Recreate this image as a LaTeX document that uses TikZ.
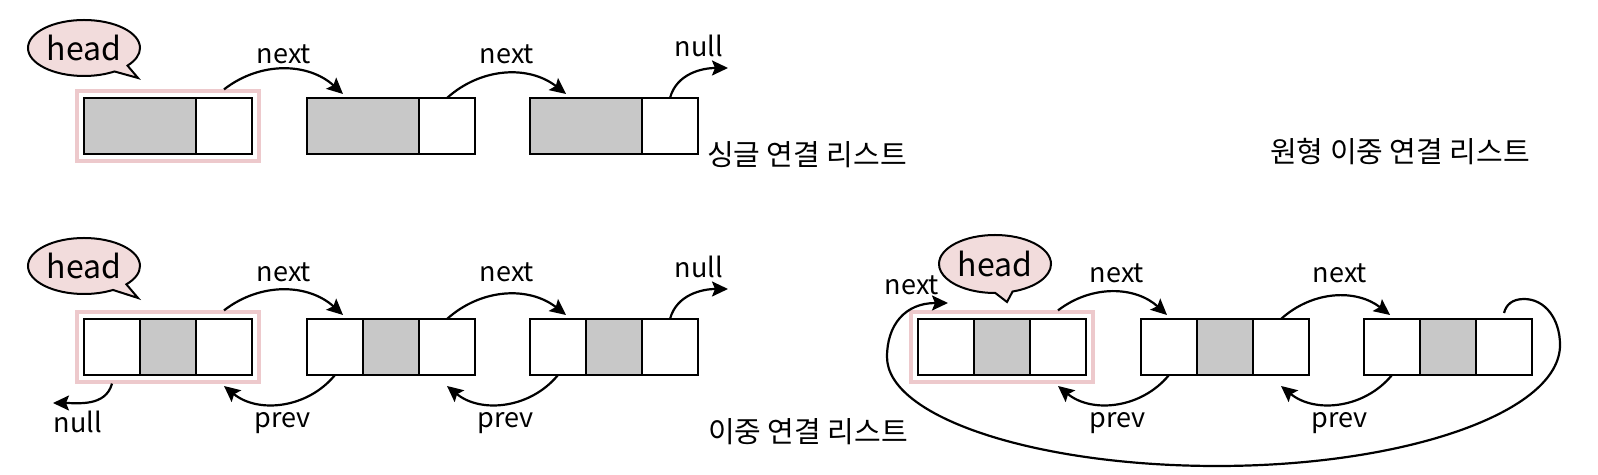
\documentclass[tikz,border=0pt]{standalone}
\usepackage{fontspec}
\setmainfont{Noto Sans CJK KR}
\usetikzlibrary{arrows.meta,shapes.callouts,fit}
\definecolor{cellgray}{HTML}{C8C8C8}
\definecolor{framepink}{HTML}{EDC9CC}
\definecolor{bubblepink}{HTML}{F2DCDC}
\tikzset{
  cell/.style={draw, line width=1.2pt, minimum width=28pt, minimum height=28pt, inner sep=0pt, outer sep=0pt, fill=white},
  datacell/.style={cell, fill=cellgray},
  headframe/.style={draw=framepink, line width=1.6pt, inner sep=3.5pt},
  bubble/.style={ellipse callout, draw, line width=1pt, fill=bubblepink, minimum width=56pt, minimum height=28pt, inner sep=0pt, callout pointer arc=18, font=\fontsize{16}{18}\selectfont},
  link/.style={line width=1.1pt, -{Stealth[length=8pt,width=7.5pt,inset=1.5pt]}},
  lbl/.style={font=\fontsize{13.5}{15}\selectfont},
  title/.style={font=\fontsize{14.5}{16}\selectfont},
}
\begin{document}
\begin{tikzpicture}[x=0.5pt, y=0.5pt]
    \useasboundingbox (0,0) rectangle (1598,475);
    % Singly linked list
    \foreach \i/\x in {1/84,2/307,3/530} {
      \node[datacell, minimum width=56pt] (s\i-a) at (\x+56,349) {};
      \node[cell] (s\i-b) at (\x+140,349) {};
    }
    \node[headframe, fit=(s1-a)(s1-b)] (sf) {};
    \node[bubble, callout absolute pointer={(138,397)}] (sh) at (84,427) {head};
    \coordinate (snull) at (728,407);
    \draw[link] (s1-b.north |- sf.north) to[bend left=40] ([xshift=-10pt,yshift=2pt]s2-a.north);
    \draw[link] (s2-b.north) to[bend left=40] ([xshift=-10pt,yshift=2pt]s3-a.north);
    \draw[link] (s3-b.north) to[out=75,in=180] (snull);
    \node[lbl] (sn1) at (284,421) {next};
    \node[lbl] (sn2) at (507,421) {next};
    \node[lbl] (sn3) at (699,429) {null};
    \node[title] (st) at (807,320) {싱글 연결 리스트};

    % Doubly linked list
    \foreach \i/\x in {1/84,2/307,3/530} {
      \node[cell] (d\i-a) at (\x+28,128) {};
      \node[datacell] (d\i-b) at (\x+84,128) {};
      \node[cell] (d\i-c) at (\x+140,128) {};
    }
    \node[headframe, fit=(d1-a)(d1-c)] (df) {};
    \node[bubble, callout absolute pointer={(138,177)}] (dh) at (84,209) {head};
    \coordinate (dnull) at (728,186);
    \coordinate (dnullb) at (53,72);
    \draw[link] (d1-c.north |- df.north) to[bend left=40] ([xshift=4pt,yshift=2pt]d2-a.north);
    \draw[link] (d2-c.north) to[bend left=40] ([xshift=4pt,yshift=2pt]d3-a.north);
    \draw[link] (d3-c.north) to[out=75,in=180] (dnull);
    \draw[link] (d2-a.south) to[bend left=45] ([yshift=-5.5pt]d1-c.south);
    \draw[link] (d3-a.south) to[bend left=45] ([yshift=-5.5pt]d2-c.south);
    \draw[link] (d1-a.south |- df.south) to[out=255,in=0] (dnullb);
    \node[lbl] (dn1) at (284,203) {next};
    \node[lbl] (dn2) at (507,203) {next};
    \node[lbl] (dn3) at (699,208) {null};
    \node[lbl] (dn4) at (78,53) {null};
    \node[lbl] (dp1) at (283,52) {prev};
    \node[lbl] (dp2) at (506,52) {prev};
    \node[title] (dt) at (808,43) {이중 연결 리스트};

    % Circular doubly linked list
    \foreach \i/\x in {1/918,2/1141,3/1364} {
      \node[cell] (c\i-a) at (\x+28,128) {};
      \node[datacell] (c\i-b) at (\x+84,128) {};
      \node[cell] (c\i-c) at (\x+140,128) {};
    }
    \node[headframe, fit=(c1-a)(c1-c)] (cf) {};
    \node[bubble, minimum height=29pt, callout absolute pointer={(1007,173)}] (ch) at (995,211) {head};
    \coordinate (cloop) at (948,172);
    \draw[link] (c1-c.north |- cf.north) to[bend left=40] ([xshift=-1pt,yshift=2pt]c2-a.north);
    \draw[link] (c2-c.north) to[bend left=40] ([xshift=-1pt,yshift=2pt]c3-a.north);
    \draw[link] (c2-a.south) to[bend left=45] ([yshift=-5.5pt]c1-c.south);
    \draw[link] (c3-a.south) to[bend left=45] ([yshift=-5.5pt]c2-c.south);
    \draw[link] ([yshift=3pt]c3-c.north) .. controls (1506,170) and (1512,176) .. (1524,176)
        .. controls (1545,176) and (1560,156) .. (1560,130)
        .. controls (1560,63) and (1406,9) .. (1217,9)
        .. controls (1035,9) and (887,58) .. (887,118)
        .. controls (887,150) and (905,172) .. (cloop);
    \node[lbl] (cn0) at (912,190) {next};
    \node[lbl] (cn1) at (1117,202) {next};
    \node[lbl] (cn2) at (1340,202) {next};
    \node[lbl] (cp1) at (1118,52) {prev};
    \node[lbl] (cp2) at (1340,52) {prev};
    \node[title] (ct) at (1400,323) {원형 이중 연결 리스트};
\end{tikzpicture}
\end{document}
